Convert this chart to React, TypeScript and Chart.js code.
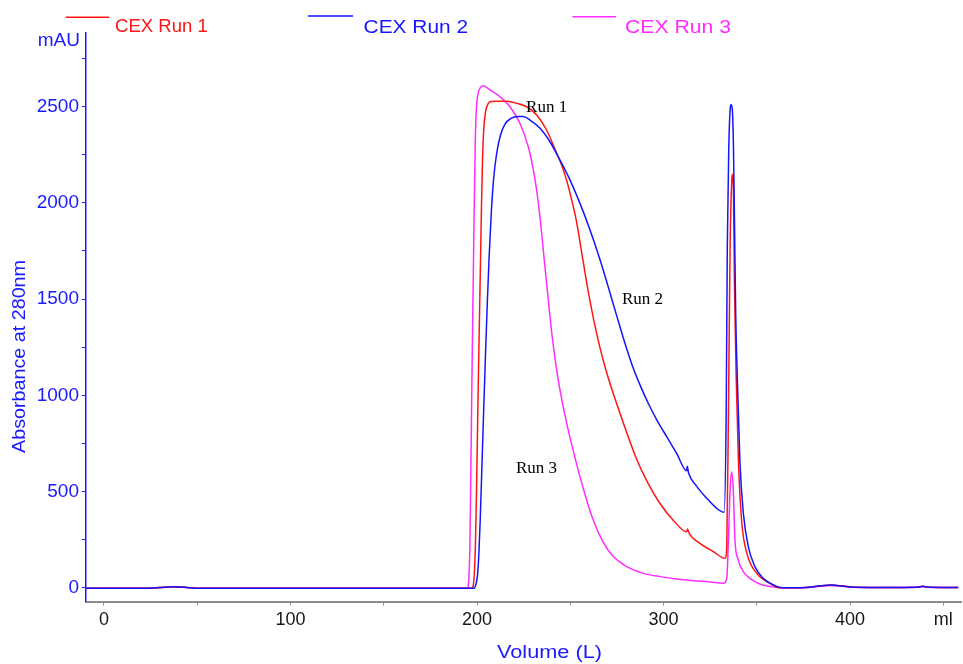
import React, { useEffect, useRef } from 'react';
import { Chart, registerables } from 'chart.js';

Chart.register(...registerables);

// Chromatogram traces: elution volume (L) and absorbance at 280 nm (mAU)
const run1Volume = [
  -9.6, 24, 30, 37, 44, 50, 150, 197.2, 197.75, 198.66, 199.2, 199.73, 200.27, 200.8, 201.34, 201.88,
  202.41, 202.95, 203.59, 204.56, 205.9, 207.5, 210.6, 216.0, 221.2, 226.6, 232.0, 237.3, 242.7, 245.4,
  248.1, 250.7, 253.4, 257, 260, 263, 266, 269, 272, 276, 280.2, 285.6, 290.9, 298.1, 305.3, 312.4,
  312.9, 313.6, 319.5, 326.7, 333.0, 333.9, 334.8, 335.7, 336.6, 337.0, 337.5, 338.0, 339.0, 340.2,
  342.0, 344.7, 350.0, 357.1, 362.5, 370, 378, 384, 390, 396, 402, 420, 436, 439, 442, 458,
];
const run1Abs = [
  -2, -2, 1, 5, 2, -2, -2, -2, 2, 92, 248, 508, 820, 1131, 1417, 1703,
  1988, 2222, 2378, 2472, 2514, 2526, 2527, 2527, 2517, 2499, 2456, 2378, 2257, 2195,
  2115, 2018, 1900, 1690, 1520, 1372, 1245, 1135, 1040, 925, 808, 668, 558, 438, 350, 291,
  306, 286, 231, 188, 153, 213, 906, 1772, 2118, 2148, 2066, 1599, 1079, 647,
  335, 179, 75, 23, 0, 0, 3, 10, 14, 9, 3, 2, 3, 8, 3, 2,
];

const run2Volume = [
  -9.6, 24, 30, 37, 44, 50, 150, 198.4, 199.46, 200.27, 200.97, 201.72, 202.57, 203.49, 204.45, 205.47,
  206.54, 207.67, 208.95, 210.56, 212.6, 215.0, 218.2, 222.0, 224.7, 228.4, 233.8, 239.1, 244.5, 249.9,
  255.2, 260.6, 266, 270, 275, 280, 284, 288, 292, 296.3, 301.7, 307, 312.4, 312.7, 313.4, 317.8,
  323.2, 328.5, 332.5, 333.6, 334.2, 335.0, 335.7, 336.2, 336.9, 337.5, 338.0, 338.7, 339.6, 341.0,
  342.8, 345.5, 349.0, 353.5, 358.9, 362.5, 370, 378, 384, 390, 396, 402, 420, 436, 439, 442, 458,
];
const run2Abs = [
  -2, -2, 1, 6, 3, -2, -2, -2, 20, 66, 170, 352, 612, 898, 1183, 1469,
  1729, 1952, 2129, 2258, 2352, 2409, 2438, 2448, 2448, 2430, 2387, 2317, 2222, 2118,
  1997, 1859, 1703, 1575, 1410, 1250, 1135, 1040, 955, 874, 785, 699, 608, 632, 598, 527,
  465, 413, 392, 906, 1772, 2291, 2482, 2511, 2482, 2291, 1945, 1426, 1079, 647,
  387, 213, 110, 49, 15, 2, 0, 3, 10, 14, 9, 3, 2, 3, 8, 3, 2,
];

const run3Volume = [
  -9.6, 24, 30, 37, 44, 50, 150, 194.6, 195.07, 195.7, 196.14, 196.51, 196.89, 197.27, 197.69, 198.12,
  198.55, 199.04, 199.63, 200.54, 201.88, 203.38, 207.0, 212.3, 217.7, 223.0, 227.5, 229.5, 231.4, 233.0,
  234.5, 235.9, 238.07, 240.2, 242.4, 244.5, 248.1, 253.5, 257.9, 262.4, 267.7, 273.1, 280.3, 289.2,
  298.1, 307.0, 316.0, 325.0, 332.1, 333.9, 334.8, 335.7, 336.5, 337.4, 338.3, 340.1, 342.8, 346.3,
  351.6, 358, 365, 378, 384, 390, 396, 402, 420, 436, 439, 442, 458,
];
const run3Abs = [
  -2, -2, 1, 5, 2, -2, -2, -2, 0, 66, 196, 456, 768, 1079, 1391, 1703,
  2014, 2300, 2482, 2565, 2599, 2608, 2586, 2551, 2499, 2413, 2291, 2206, 2103, 1989,
  1858, 1718, 1510, 1313, 1152, 1027, 854, 640, 485, 350, 236, 162, 110, 75,
  58, 46, 37, 30, 23, 49, 248, 508, 603, 508, 248, 144, 84, 49,
  20, 5, 0, 2, 8, 12, 8, 3, 2, 3, 6, 3, 2,
];

const seriesNames = ['CEX Run 1', 'CEX Run 2', 'CEX Run 3'];
const peakNames = ['Run 1', 'Run 2', 'Run 3'];

const yTickValues = [0, 250, 500, 750, 1000, 1250, 1500, 1750, 2000, 2250, 2500, 2750];
const yLabelValues = [0, 500, 1000, 1500, 2000, 2500];
const xTickValues = [0, 50, 100, 150, 200, 250, 300, 350, 400, 450];
const xTickLabels = ['0', '', '100', '', '200', '', '300', '', '400', 'ml'];

const RED = '#ff1414';
const BLUE = '#1414ff';
const MAGENTA = '#ff2cff';
const AXIS_BLUE = '#1a1aff';

const toPoints = (xs: number[], ys: number[]) => xs.map((x, i) => ({ x, y: ys[i] }));

// Text drawn to a given width (the labels here are slightly stretched horizontally)
function drawFitted(
  ctx: CanvasRenderingContext2D,
  text: string,
  x: number,
  y: number,
  font: string,
  width: number,
  align: 'left' | 'center' | 'right',
) {
  ctx.save();
  ctx.font = font;
  const w = ctx.measureText(text).width;
  const sx = width / w;
  ctx.translate(x, y);
  ctx.scale(sx, 1);
  ctx.textAlign = align;
  ctx.fillText(text, 0, 0);
  ctx.restore();
}

const decorations = {
  id: 'decorations',
  afterDatasetsDraw(chart: any) {
    const ctx: CanvasRenderingContext2D = chart.ctx;
    const xs = chart.scales.x;
    const ys = chart.scales.y;
    ctx.save();
    ctx.textBaseline = 'alphabetic';

    // legend along the top: sample line raised above each label
    const legend = [
      { color: RED, line: [65.7, 109.3, 17.3], text: [115, 31.5, 92.7] },
      { color: BLUE, line: [308, 353, 16], text: [363.6, 32.7, 104.4] },
      { color: MAGENTA, line: [572.5, 616, 16.7], text: [625, 32.7, 106] },
    ];
    legend.forEach((item, i) => {
      ctx.strokeStyle = item.color;
      ctx.lineWidth = 1.5;
      ctx.beginPath();
      ctx.moveTo(item.line[0], item.line[2]);
      ctx.lineTo(item.line[1], item.line[2]);
      ctx.stroke();
      ctx.fillStyle = item.color;
      drawFitted(ctx, seriesNames[i], item.text[0], item.text[1], '19px "Liberation Sans", Arial, sans-serif', item.text[2], 'left');
    });

    // unit label at the top of the y axis
    ctx.fillStyle = AXIS_BLUE;
    ctx.font = '19px "Liberation Sans", Arial, sans-serif';
    ctx.textAlign = 'right';
    ctx.fillText('mAU', 80, 46);

    // y axis title
    ctx.save();
    ctx.translate(25.2, 356.5);
    ctx.rotate(-Math.PI / 2);
    drawFitted(ctx, 'Absorbance at 280nm', 0, 0, '18px "Liberation Sans", Arial, sans-serif', 193, 'center');
    ctx.restore();

    // x axis title
    drawFitted(ctx, 'Volume (L)', 549.5, 658, '18px "Liberation Sans", Arial, sans-serif', 105, 'center');

    // peak annotations, placed in data coordinates
    const notes = [
      { v: 226.3, a: 2473 },
      { v: 277.7, a: 1474 },
      { v: 220.9, a: 596 },
    ];
    ctx.fillStyle = '#000000';
    ctx.font = '17px "Liberation Serif", "Times New Roman", serif';
    ctx.textAlign = 'left';
    notes.forEach((n, i) => {
      ctx.fillText(peakNames[i], xs.getPixelForValue(n.v), ys.getPixelForValue(n.a));
    });
    ctx.restore();
  },
};

export default function App() {
  const canvasRef = useRef<HTMLCanvasElement | null>(null);

  useEffect(() => {
    const canvas = canvasRef.current;
    if (!canvas) return;
    const chart = new Chart(canvas, {
      type: 'line',
      data: {
        datasets: [
          {
            label: seriesNames[1],
            data: toPoints(run2Volume, run2Abs),
            borderColor: BLUE,
            borderWidth: 1.5,
            pointRadius: 0,
            cubicInterpolationMode: 'monotone',
            order: 0,
          },
          {
            label: seriesNames[0],
            data: toPoints(run1Volume, run1Abs),
            borderColor: RED,
            borderWidth: 1.5,
            pointRadius: 0,
            cubicInterpolationMode: 'monotone',
            order: 1,
          },
          {
            label: seriesNames[2],
            data: toPoints(run3Volume, run3Abs),
            borderColor: MAGENTA,
            borderWidth: 1.5,
            pointRadius: 0,
            cubicInterpolationMode: 'monotone',
            order: 2,
          },
        ],
      },
      options: {
        responsive: false,
        animation: false,
        devicePixelRatio: 1,
        layout: { padding: { top: 33, right: 2, left: 0, bottom: 0 } },
        plugins: {
          legend: { display: false },
          tooltip: { enabled: false },
        },
        scales: {
          x: {
            type: 'linear',
            min: -9.65,
            max: 459.5,
            afterBuildTicks: (scale: any) => {
              scale.ticks = xTickValues.map((value) => ({ value }));
            },
            afterFit: (scale: any) => {
              scale.height = 62.5;
            },
            grid: {
              drawOnChartArea: false,
              drawTicks: true,
              tickLength: 4,
              color: '#8c8c8c',
              lineWidth: 1,
            },
            border: { display: true, color: '#8c8c8c', width: 2 },
            ticks: {
              autoSkip: false,
              maxRotation: 0,
              padding: 4,
              color: '#161616',
              font: { family: '"Liberation Sans", Arial, sans-serif', size: 18 },
              callback: (_value: any, index: number) => xTickLabels[index],
            },
          },
          y: {
            type: 'linear',
            min: -71.2,
            max: 2882,
            afterBuildTicks: (scale: any) => {
              scale.ticks = yTickValues.map((value) => ({ value }));
            },
            afterFit: (scale: any) => {
              scale.width = 86;
            },
            grid: {
              drawOnChartArea: false,
              drawTicks: true,
              tickLength: 4,
              color: AXIS_BLUE,
              lineWidth: 1,
            },
            border: { display: true, color: AXIS_BLUE, width: 1.5 },
            ticks: {
              autoSkip: false,
              padding: 3,
              color: AXIS_BLUE,
              font: { family: '"Liberation Sans", Arial, sans-serif', size: 19 },
              callback: (value: any) => (yLabelValues.includes(Number(value)) ? String(value) : ''),
            },
          },
        },
      },
      plugins: [decorations],
    });
    return () => chart.destroy();
  }, []);

  return (
    <div style={{ position: 'absolute', left: 0, top: 0, width: 963, height: 664, background: '#ffffff' }}>
      <canvas ref={canvasRef} width={963} height={664} style={{ display: 'block' }} />
    </div>
  );
}
